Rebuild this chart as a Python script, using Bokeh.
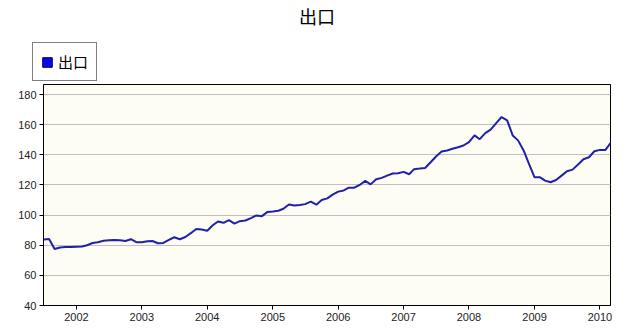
import pandas as pd
from bokeh.plotting import figure
from bokeh.layouts import column
from bokeh.models import (ColumnDataSource, Range1d, FixedTicker, DatetimeTickFormatter,
                          Legend, LegendItem, Plot)
from bokeh.embed import file_html
from bokeh.resources import INLINE

# ---- data ----
title_text = "出口"
series_name = "出口"
dates = pd.date_range("2001-07-01", "2010-03-01", freq="MS")
export_values = [
    83.8, 84.2, 77.5, 78.5, 78.8, 78.8,                      # 2001 Jul-Dec
    79.0, 79.2, 80.0, 81.5, 82.0, 83.0, 83.3, 83.5, 83.3, 82.8, 84.0, 82.0,   # 2002
    82.0, 82.7, 82.8, 81.3, 81.5, 83.5, 85.3, 84.0, 85.5, 88.0, 90.8, 90.5,   # 2003
    89.6, 93.3, 95.8, 94.9, 96.7, 94.4, 96.0, 96.4, 98.0, 99.8, 99.3, 102.0,  # 2004
    102.4, 102.9, 104.2, 107.1, 106.4, 106.7, 107.3, 108.9, 106.9, 110.0, 111.1, 113.6,  # 2005
    115.6, 116.4, 118.2, 118.2, 120.0, 122.7, 120.4, 123.8, 124.7, 126.2, 127.6, 127.8,  # 2006
    128.7, 127.1, 130.5, 130.9, 131.3, 135.1, 138.9, 142.2, 142.9, 144.0, 145.1, 146.2,  # 2007
    148.4, 152.9, 150.4, 154.4, 156.7, 161.1, 165.1, 162.9, 152.9, 149.6, 142.9, 134.0,  # 2008
    125.1, 125.1, 122.9, 121.8, 123.3, 126.2, 129.1, 130.2, 133.6, 137.1, 138.4, 142.4,  # 2009
    143.3, 143.3, 147.8,                                     # 2010 Jan-Mar
]
year_ticks = [2002, 2003, 2004, 2005, 2006, 2007, 2008, 2009, 2010]
y_ticks = [40, 60, 80, 100, 120, 140, 160, 180]
y_min, y_max = 40, 186.7

source = ColumnDataSource(data=dict(date=list(dates), value=export_values))
tick_ms = [pd.Timestamp(f"{y}-01-01").value // 10**6 for y in year_ticks]
has_frame_align = "frame_align" in Plot.properties()

# ---- header: title + legend ----
head = figure(output_backend="svg", toolbar_location=None, width=633, height=83,
              min_border_left=0, min_border_right=0, min_border_top=0, min_border_bottom=0,
              x_axis_location=None, y_axis_location=None,
              x_range=Range1d(0, 1), y_range=Range1d(0, 1),
              background_fill_color="white", border_fill_color="white")
if has_frame_align:
    head.frame_align = False
head.outline_line_color = None
head.grid.grid_line_color = None
head.title.text = title_text
head.title.align = "center"
head.title.offset = 3.5
head.title.standoff = 0
head.title.text_font = "Noto Sans CJK SC"
head.title.text_font_size = "18px"
head.title.text_font_style = "normal"
head.title.text_color = "black"

swatch = head.quad(left=[float("nan")], right=[float("nan")], top=[float("nan")],
                   bottom=[float("nan")], fill_color="#0808E8",
                   line_color="#000070", line_width=1)
legend = Legend(items=[LegendItem(label=series_name, renderers=[swatch])],
                location=(32, 2), orientation="vertical",
                glyph_width=12, glyph_height=12, label_height=19, label_standoff=5,
                padding=8, margin=0, spacing=0,
                label_text_font="Noto Sans CJK SC", label_text_font_size="15px",
                label_text_color="black",
                border_line_color="black", border_line_width=1,
                background_fill_color="white", background_fill_alpha=1)
head.add_layout(legend, "center")

# ---- main plot ----
p = figure(x_axis_type="datetime", output_backend="svg", toolbar_location=None,
           frame_width=567, frame_height=221,
           min_border_left=43, min_border_right=23, min_border_top=1, min_border_bottom=23,
           x_range=Range1d(dates[0], dates[-1]), y_range=Range1d(y_min, y_max),
           background_fill_color="#FEFDF4", border_fill_color="white")
if has_frame_align:
    p.frame_align = False

p.outline_line_color = "black"
p.outline_line_width = 1
p.outline_line_alpha = 1

p.xgrid.grid_line_color = None
p.ygrid.grid_line_color = "#C0C0C0"
p.ygrid.grid_line_width = 1
p.ygrid.ticker = FixedTicker(ticks=y_ticks)

for ax in (p.xaxis[0], p.yaxis[0]):
    ax.axis_line_color = "black"
    ax.major_tick_line_color = "black"
    ax.major_tick_out = 4
    ax.major_tick_in = 0
    ax.minor_tick_line_color = None
    ax.major_label_text_font = "Liberation Sans"
    ax.major_label_text_font_size = "11px"
    ax.major_label_text_color = "#222222"
    ax.major_label_standoff = 3

p.yaxis.ticker = FixedTicker(ticks=y_ticks)
p.xaxis.ticker = FixedTicker(ticks=tick_ms)
p.xaxis.formatter = DatetimeTickFormatter(years="%Y", months="%Y", days="%Y", hours="%Y")

p.line("date", "value", source=source, line_color="#2020A8", line_width=2)

layout = column(head, p, spacing=0)
open("out.html", "w").write(file_html(layout, INLINE))
